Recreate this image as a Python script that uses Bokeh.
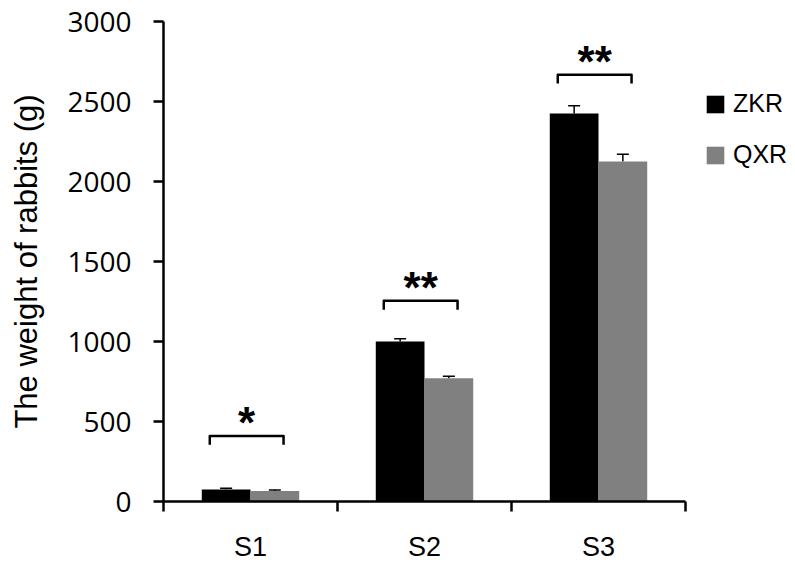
from bokeh.plotting import figure
from bokeh.models import (Range1d, FixedTicker, Whisker, TeeHead, ColumnDataSource,
                          Legend, LegendItem)
from bokeh.embed import file_html
from bokeh.resources import INLINE
from bokeh.core.properties import value

# ---- data ----
categories = ["S1", "S2", "S3"]
series = ["ZKR", "QXR"]
zkr = [75, 1000, 2425]
qxr = [65, 771, 2125]
zkr_err = [8, 17, 48]
qxr_err = [7, 12, 45]
bracket_y = [410, 1254, 2667]
stars = ["*", "**", "**"]
y_ticks = [0, 500, 1000, 1500, 2000, 2500, 3000]
colors = ["#000000", "#808080"]

# ---- layout constants ----
W, H = 795, 564
LEFT, TOP, BOTTOM = 163, 21, 63
AXIS_PX = 522            # pixel length of the category axis
n = len(categories)
x_end = n * (W - LEFT) / AXIS_PX   # frame extends right to hold the legend

centers = [i + 0.5 for i in range(n)]
bar_w = 0.28
x_z = [c - bar_w / 2 for c in centers]
x_q = [c + bar_w / 2 for c in centers]

p = figure(width=W, height=H,
           x_range=Range1d(0, x_end), y_range=Range1d(y_ticks[0], y_ticks[-1]),
           output_backend="svg", toolbar_location=None,
           min_border_left=LEFT, min_border_right=0,
           min_border_top=TOP, min_border_bottom=BOTTOM)
p.xgrid.visible = False
p.ygrid.visible = False
p.outline_line_color = None
p.background_fill_color = "white"
p.border_fill_color = "white"

r_z = p.vbar(x=x_z, top=zkr, bottom=0, width=bar_w, fill_color=colors[0], line_color=None)
r_q = p.vbar(x=x_q, top=qxr, bottom=0, width=bar_w, fill_color=colors[1], line_color=None)

# error bars (upper only)
err_src = ColumnDataSource(dict(
    base=x_z + x_q,
    lower=zkr + qxr,
    upper=[v + e for v, e in zip(zkr, zkr_err)] + [v + e for v, e in zip(qxr, qxr_err)],
))
whisk = Whisker(source=err_src, base="base", upper="upper", lower="lower",
                dimension="height", line_color="black", line_width=1.5,
                upper_head=TeeHead(size=12, line_width=1.5, line_color="black"),
                lower_head=None)
p.add_layout(whisk)

# significance brackets
leg_drop = 55
bl, br = -0.234, 0.19
xs = [[c + bl, c + bl, c + br, c + br] for c in centers]
ys = [[b - leg_drop, b, b, b - leg_drop] for b in bracket_y]
p.multi_line(xs, ys, line_color="black", line_width=2.5, line_join="round")

p.text(x=[c + (bl + br) / 2 for c in centers], y=bracket_y, text=stars,
       text_align="center", text_baseline="alphabetic", y_offset=-13,
       text_font=value("Liberation Sans"), text_font_style="bold",
       text_font_size="44px", text_color="black")

# legend
legend = Legend(items=[LegendItem(label=series[0], renderers=[r_z]),
                       LegendItem(label=series[1], renderers=[r_q])],
                location=(541, 332), glyph_width=22, glyph_height=22,
                label_standoff=7, spacing=22, padding=0, margin=0,
                border_line_color=None, background_fill_alpha=0,
                label_text_font="Liberation Sans", label_text_font_size="25px",
                label_height=28, label_text_color="black")
p.add_layout(legend)

# x axis
xa = p.xaxis[0]
xa.bounds = (0, n)
xa.ticker = FixedTicker(ticks=centers, minor_ticks=list(range(n + 1)))
xa.major_label_overrides = {c: cat for c, cat in zip(centers, categories)}
xa.major_tick_out = 0
xa.major_tick_in = 0
xa.minor_tick_out = 10
xa.minor_tick_in = 0
xa.minor_tick_line_width = 2.5
xa.minor_tick_line_color = "black"
xa.axis_line_width = 2.5
xa.axis_line_color = "black"
xa.major_label_text_font = "Liberation Sans"
xa.major_label_text_font_size = "27px"
xa.major_label_text_color = "black"
xa.major_label_standoff = 20

# y axis
ya = p.yaxis[0]
ya.ticker = FixedTicker(ticks=y_ticks, minor_ticks=[])
ya.major_tick_out = 10
ya.major_tick_in = 0
ya.major_tick_line_width = 2.5
ya.major_tick_line_color = "black"
ya.minor_tick_out = 0
ya.minor_tick_in = 0
ya.axis_line_width = 2.5
ya.axis_line_color = "black"
ya.major_label_text_font = "Open Sans"
ya.major_label_text_font_size = "28px"
ya.major_label_text_color = "black"
ya.major_label_standoff = 22
ya.axis_label = "The weight of rabbits (g)"
ya.axis_label_text_font = "Liberation Sans"
ya.axis_label_text_font_size = "31px"
ya.axis_label_text_font_style = "normal"
ya.axis_label_text_color = "black"
ya.axis_label_standoff = 20

open("out.html", "w").write(file_html(p, INLINE))
